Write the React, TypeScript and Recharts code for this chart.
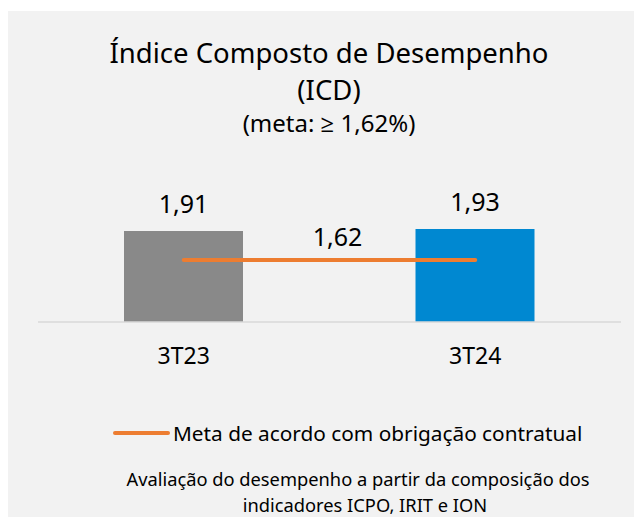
import React from 'react'
import { ComposedChart, Bar, Line, XAxis, YAxis, Cell, LabelList } from 'recharts'

const categories = ['3T23', '3T24']
const icdValues = [1.91, 1.93]
const metaValues = [1.62, 1.62]
const barColors = ['#898989', '#0088d1']

const TITLE = 'Índice Composto de Desempenho'
const SUBTITLE = '(ICD)'
const META_NOTE = '(meta: ≥ 1,62%)'
const LEGEND_NAME = 'Meta de acordo com obrigação contratual'
const FOOTNOTE = ['Avaliação do desempenho a partir da composição dos', 'indicadores ICPO, IRIT e ION']

const FONT = '"Noto Sans", "Open Sans", sans-serif'
const CHART_W = 634
const CHART_H = 380
const MARGIN = { top: 191, right: 21, bottom: 39, left: 30 }
const BAND = (CHART_W - MARGIN.left - MARGIN.right) / categories.length

const data = categories.map((c, i) => ({ cat: c, icd: icdValues[i], meta: metaValues[i] }))

const fmt = (v: number) => v.toFixed(2).replace('.', ',')

function textAt(top: number, left: number, size: number, text: string, extra?: React.CSSProperties) {
  return (
    <div style={{
      position: 'absolute', top, left, transform: 'translateX(-50%)', whiteSpace: 'nowrap',
      fontSize: size, lineHeight: 1, color: '#000', ...extra,
    }}>{text}</div>
  )
}

// only one label for the target line, centred between the two points
function MetaLabel(props: any) {
  const { x, y, value, index } = props
  if (index !== 0) return null
  return (
    <text x={x + BAND / 2 + 8} y={y - 14} textAnchor="middle" fontSize={25} fill="#000" fontFamily={FONT}>
      {fmt(Number(value))}
    </text>
  )
}

export default function App() {
  return (
    <div style={{ width: 634, height: 509, paddingTop: 3, boxSizing: 'border-box', background: '#fff' }}>
      <div style={{ position: 'relative', width: 634, height: 506, background: '#f2f2f2', fontFamily: FONT, overflow: 'hidden' }}>
        {textAt(28, 321, 27.5, TITLE)}
        {textAt(65, 321, 27.5, SUBTITLE)}
        {textAt(100, 321, 24, META_NOTE)}

        <div style={{ position: 'absolute', top: 0, left: 0 }}>
          <ComposedChart width={CHART_W} height={CHART_H} data={data} margin={MARGIN}>
            <XAxis dataKey="cat" tickLine={false} tickSize={0} tickMargin={26} height={30}
              axisLine={{ stroke: '#d9d9d9', strokeWidth: 1.5 }}
              tick={{ fontSize: 23, fill: '#000', fontFamily: FONT }} />
            <YAxis hide domain={[1, 2.2]} />
            <Bar dataKey="icd" barSize={119} isAnimationActive={false}>
              {data.map((d, i) => <Cell key={d.cat} fill={barColors[i]} />)}
              <LabelList dataKey="icd" position="top" offset={18} formatter={(v: any) => fmt(Number(v))}
                style={{ fontSize: 25, fill: '#000', fontFamily: FONT }} />
            </Bar>
            <Line dataKey="meta" stroke="#ed7d31" strokeWidth={4} strokeLinecap="round" dot={false}
              isAnimationActive={false} label={<MetaLabel />} />
          </ComposedChart>
        </div>

        <div style={{ position: 'absolute', top: 412, left: 105, display: 'flex', alignItems: 'center', whiteSpace: 'nowrap' }}>
          <div style={{ width: 57, height: 4, borderRadius: 2, background: '#ed7d31', marginRight: 3 }} />
          <span style={{ fontSize: 20.8, lineHeight: 1, color: '#000' }}>{LEGEND_NAME}</span>
        </div>

        {textAt(459, 350, 18.3, FOOTNOTE[0])}
        {textAt(485, 357, 18.3, FOOTNOTE[1])}
      </div>
    </div>
  )
}
